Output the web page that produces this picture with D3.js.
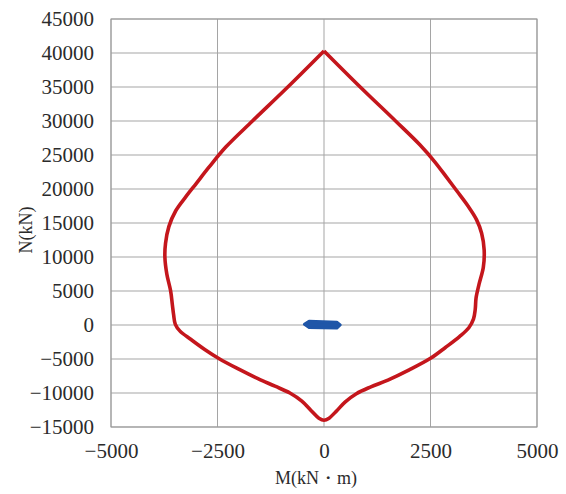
<!DOCTYPE html>
<html>
<head>
<meta charset="utf-8">
<script src="https://cdn.jsdelivr.net/npm/d3@7"></script>
<style>
  html, body { margin: 0; padding: 0; background: #ffffff; }
  svg { display: block; }
</style>
</head>
<body>
<svg id="chart" width="566" height="494"></svg>
<script>
// ---- data ----
const xTicks = [-5000, -2500, 0, 2500, 5000];
const yTicks = [-15000, -10000, -5000, 0, 5000, 10000, 15000, 20000, 25000, 30000, 35000, 40000, 45000];
const xTitle = "M(kN・m)";
const yTitle = "N(kN)";

// interaction curve, right half (M, N) from apex down to bottom
const rightM = [0, 850, 1680, 2250, 2600, 2880, 3120, 3380, 3580, 3700, 3760, 3740, 3640, 3570, 3550, 3510, 3400, 3180, 2850, 2500, 2000, 1500, 1100, 760, 500, 300, 120, 0];
const rightN = [40300, 35000, 30000, 26500, 24000, 21700, 19700, 17500, 15500, 13500, 11000, 8500, 6000, 4000, 2300, 900, -400, -1700, -3300, -4900, -6600, -8100, -9100, -10100, -11300, -12600, -13700, -14000];
// left half (M, N) from bottom back up to apex
const leftM = [-120, -300, -520, -800, -1150, -1550, -2000, -2450, -2800, -3130, -3380, -3490, -3530, -3560, -3600, -3690, -3735, -3720, -3640, -3480, -3250, -3000, -2700, -2300, -1680, -850, 0];
const leftN = [-13700, -12600, -11200, -10000, -9000, -7900, -6500, -5000, -3600, -2100, -900, 100, 1500, 3000, 5000, 7500, 10000, 12000, 14500, 16800, 18800, 20800, 23200, 26200, 30000, 35000, 40300];

// applied load points (M, N)
const loadM = [-460, -350, 300, 380, 300, -350];
const loadN = [100, 550, 400, 0, -450, -350];

// ---- layout ----
const svg = d3.select("#chart");
const pL = 111, pR = 537, pT = 19, pB = 427;
const x = d3.scaleLinear().domain([-5000, 5000]).range([pL, pR]);
const y = d3.scaleLinear().domain([-15000, 45000]).range([pB, pT]);
const tickFont = "'Liberation Serif', 'DejaVu Serif', serif";
const textColor = "#2b2b2b";
const gridColor = "#a5a5a5";

// grid
svg.append("g").selectAll("line").data(yTicks).join("line")
  .attr("x1", pL).attr("x2", pR)
  .attr("y1", d => y(d)).attr("y2", d => y(d))
  .attr("stroke", gridColor).attr("stroke-width", 1);
svg.append("g").selectAll("line").data(xTicks).join("line")
  .attr("y1", pT).attr("y2", pB)
  .attr("x1", d => x(d)).attr("x2", d => x(d))
  .attr("stroke", gridColor).attr("stroke-width", 1);
svg.append("rect").attr("x", pL).attr("y", pT)
  .attr("width", pR - pL).attr("height", pB - pT)
  .attr("fill", "none").attr("stroke", "#999").attr("stroke-width", 1);

const fmt = d => (d < 0 ? "\u2212" + Math.abs(d) : String(d));

// axes
const yAxis = svg.append("g").attr("transform", `translate(${pL},0)`)
  .call(d3.axisLeft(y).tickValues(yTicks).tickSize(0).tickPadding(17).tickFormat(fmt));
const xAxis = svg.append("g").attr("transform", `translate(0,${pB})`)
  .call(d3.axisBottom(x).tickValues(xTicks).tickSize(0).tickPadding(16).tickFormat(fmt));
[yAxis, xAxis].forEach(g => {
  g.select(".domain").remove();
  g.selectAll("text").attr("font-family", tickFont).attr("font-size", 21).attr("fill", textColor);
});

// titles
svg.append("text").attr("x", 316).attr("y", 484).attr("text-anchor", "middle")
  .attr("font-family", tickFont).attr("font-size", 18).attr("fill", textColor).text(xTitle);
svg.append("text").attr("transform", "translate(32,230) rotate(-90)").attr("text-anchor", "middle")
  .attr("font-family", tickFont).attr("font-size", 18).attr("fill", textColor).text(yTitle);

// interaction curve
const pts = rightM.map((m, i) => [m, rightN[i]]).concat(leftM.map((m, i) => [m, leftN[i]]));
const line = d3.line().x(d => x(d[0])).y(d => y(d[1])).curve(d3.curveCatmullRom.alpha(0.5));
svg.append("path").attr("d", line(pts))
  .attr("fill", "none").attr("stroke", "#c4161c").attr("stroke-width", 3.6)
  .attr("stroke-linejoin", "miter");

// load points
const lp = loadM.map((m, i) => [m, loadN[i]]);
svg.append("path").attr("d", d3.line().x(d => x(d[0])).y(d => y(d[1]))(lp) + "Z")
  .attr("fill", "#1f56a8").attr("stroke", "#1f56a8").attr("stroke-width", 3)
  .attr("stroke-linejoin", "round");
</script>
</body>
</html>
